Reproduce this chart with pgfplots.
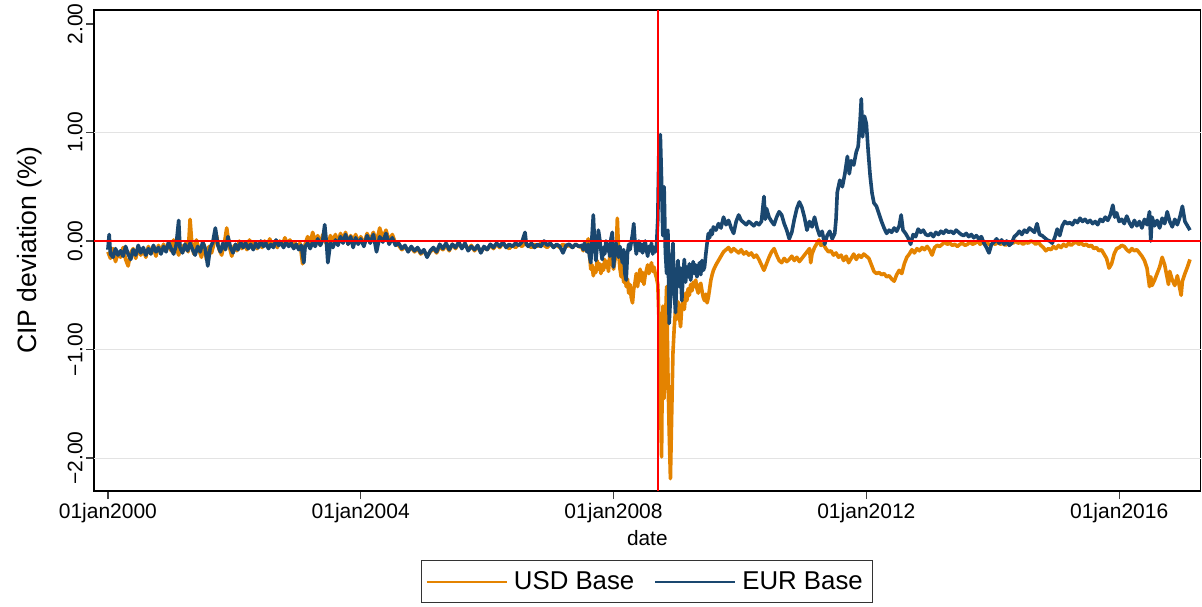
\documentclass[border=0pt]{standalone}
\usepackage{pgfplots}
\pgfplotsset{compat=1.18}
\usepackage{fontspec}
\setmainfont{Liberation Sans}
\definecolor{usdor}{RGB}{228,131,0}
\definecolor{eurnavy}{RGB}{26,71,111}
\begin{document}
\begin{tikzpicture}
\useasboundingbox (0,0) rectangle (601pt,303pt);
\begin{axis}[
  at={(47pt,57.5pt)}, anchor=south west,
  scale only axis, width=553.35pt, height=240.5pt,
  xmin=1999.78, xmax=2017.29, ymin=-2.304, ymax=2.129,
  xtick={2000,2004,2008,2012,2016},
  xticklabels={01jan2000,01jan2004,01jan2008,01jan2012,01jan2016},
  ytick={-2,-1,0,1,2},
  yticklabels={−2.00,−1.00,0.00,1.00,2.00},
  extra y ticks={-2,-1,1}, extra y tick labels={},
  extra y tick style={grid=major, major tick length=0pt},
  major grid style={gray!22, line width=0.5pt},
  /pgf/number format/assume math mode=true,
  xtick pos=lower, ytick pos=left, tick align=outside,
  major tick length=4pt,
  tick style={black!75, line width=0.6pt},
  axis line style={black, line width=0.6pt},
  ticklabel style={font=\fontsize{10.5}{12}\selectfont},
  yticklabel style={rotate=90, anchor=south, inner sep=1.5pt},
  xticklabel style={inner sep=2pt},
  xlabel={date}, ylabel={CIP deviation (\%)},
  xlabel style={font=\fontsize{10.4}{12}\selectfont, at={(axis description cs:0.5,-0.0977)}, anchor=center},
  ylabel style={font=\fontsize{13.3}{15}\selectfont, at={(axis description cs:-0.0585,0.5)}, anchor=center, rotate=0},
  legend columns=2,
  legend style={at={(axis description cs:0.5,-0.1435)}, anchor=north, draw=black!80, line width=0.5pt,
    font=\fontsize{12.9}{14}\selectfont, inner xsep=2pt, inner ysep=2.3pt,
    nodes={inner sep=3pt},
    /tikz/every even column/.append style={column sep=7pt}},
  legend image code/.code={\draw[#1, line width=1pt] (0pt,0pt) -- (40pt,0pt);},
]
\addplot[usdor, line width=1.8pt, line join=round] table {
2000.00 -0.10
2000.04 -0.16
2000.08 -0.07
2000.12 -0.19
2000.16 -0.11
2000.20 -0.15
2000.24 -0.06
2000.28 -0.17
2000.32 -0.23
2000.36 -0.11
2000.40 -0.07
2000.44 -0.16
2000.48 -0.06
2000.52 -0.13
2000.56 -0.08
2000.60 -0.15
2000.64 -0.05
2000.68 -0.11
2000.72 -0.06
2000.76 -0.14
2000.80 -0.04
2000.84 -0.10
2000.88 -0.03
2000.92 -0.09
2000.96 -0.02
2001.00 -0.09
2001.04 0.01
2001.08 -0.06
2001.12 -0.13
2001.16 -0.04
2001.20 -0.09
2001.24 -0.01
2001.27 -0.10
2001.30 0.20
2001.33 -0.04
2001.36 -0.12
2001.40 0.01
2001.44 -0.08
2001.48 -0.15
2001.52 -0.03
2001.56 -0.17
2001.60 -0.05
2001.64 -0.11
2001.68 -0.02
2001.72 0.05
2001.76 -0.08
2001.80 -0.13
2001.84 -0.03
2001.88 0.12
2001.92 -0.05
2001.96 -0.14
2002.00 -0.04
2002.04 -0.09
2002.08 0.00
2002.12 -0.07
2002.16 -0.02
2002.20 -0.08
2002.24 0.01
2002.28 -0.05
2002.32 -0.01
2002.36 -0.07
2002.40 -0.02
2002.44 -0.06
2002.48 0.00
2002.52 -0.05
2002.56 0.02
2002.60 -0.04
2002.64 -0.01
2002.68 -0.06
2002.72 0.00
2002.76 -0.04
2002.80 0.03
2002.84 -0.03
2002.88 0.01
2002.92 -0.05
2002.96 -0.02
2003.00 -0.06
2003.04 -0.02
2003.08 -0.21
2003.12 -0.03
2003.16 0.04
2003.20 -0.02
2003.24 0.08
2003.28 -0.01
2003.32 0.05
2003.36 -0.04
2003.40 0.06
2003.44 0.00
2003.48 -0.06
2003.52 0.05
2003.56 0.00
2003.60 0.06
2003.64 -0.02
2003.68 0.07
2003.72 0.01
2003.76 0.08
2003.80 -0.03
2003.84 0.05
2003.88 0.00
2003.92 0.06
2003.96 -0.02
2004.00 0.04
2004.05 -0.03
2004.10 0.07
2004.15 0.01
2004.20 0.08
2004.25 -0.01
2004.30 0.12
2004.35 0.03
2004.40 0.10
2004.45 0.00
2004.50 0.06
2004.55 -0.02
2004.60 -0.04
2004.65 -0.08
2004.70 -0.05
2004.75 -0.09
2004.80 -0.06
2004.85 -0.10
2004.90 -0.07
2004.95 -0.12
2005.00 -0.09
2005.05 -0.14
2005.10 -0.10
2005.15 -0.07
2005.20 -0.11
2005.25 -0.05
2005.30 -0.08
2005.35 -0.04
2005.40 -0.09
2005.45 -0.03
2005.50 -0.07
2005.55 -0.02
2005.60 -0.06
2005.65 -0.03
2005.70 -0.08
2005.75 -0.04
2005.80 -0.09
2005.85 -0.05
2005.90 -0.10
2005.95 -0.06
2006.00 -0.08
2006.05 -0.04
2006.10 -0.07
2006.15 -0.03
2006.20 -0.06
2006.25 -0.02
2006.30 -0.05
2006.35 -0.07
2006.40 -0.04
2006.45 -0.06
2006.50 -0.03
2006.55 -0.05
2006.60 -0.02
2006.65 -0.04
2006.70 -0.06
2006.75 -0.03
2006.80 -0.05
2006.85 -0.02
2006.90 -0.04
2006.95 -0.06
2007.00 -0.03
2007.05 -0.05
2007.10 -0.04
2007.15 -0.06
2007.20 -0.03
2007.25 -0.05
2007.30 -0.04
2007.35 -0.06
2007.40 -0.03
2007.45 -0.05
2007.50 -0.06
2007.52 -0.09
2007.54 -0.04
2007.56 -0.08
2007.58 -0.02
2007.60 0.02
2007.62 -0.12
2007.64 -0.26
2007.66 -0.22
2007.68 -0.32
2007.70 -0.25
2007.72 -0.29
2007.74 -0.18
2007.76 -0.26
2007.78 -0.21
2007.80 -0.30
2007.82 -0.22
2007.84 -0.27
2007.86 -0.17
2007.88 -0.24
2007.90 -0.19
2007.92 -0.28
2007.94 -0.14
2007.96 -0.09
2007.98 -0.20
2008.00 -0.26
2008.02 -0.18
2008.04 -0.12
2008.06 0.21
2008.08 -0.10
2008.10 -0.25
2008.12 -0.33
2008.14 -0.22
2008.16 -0.38
2008.18 -0.30
2008.20 -0.42
2008.22 -0.35
2008.24 -0.48
2008.26 -0.40
2008.28 -0.52
2008.30 -0.57
2008.32 -0.44
2008.34 -0.38
2008.36 -0.30
2008.38 -0.42
2008.40 -0.33
2008.42 -0.26
2008.44 -0.37
2008.46 -0.29
2008.48 -0.40
2008.50 -0.32
2008.52 -0.27
2008.54 -0.22
2008.56 -0.30
2008.58 -0.25
2008.60 -0.20
2008.62 -0.28
2008.64 -0.24
2008.66 -0.30
2008.68 -0.34
2008.70 -0.40
2008.72 -0.75
2008.74 -1.40
2008.76 -1.99
2008.78 -0.60
2008.80 -1.45
2008.82 -0.75
2008.84 -0.42
2008.86 -1.20
2008.88 -1.75
2008.90 -2.19
2008.92 -1.60
2008.94 -1.03
2008.96 -0.80
2008.98 -0.64
2009.00 -0.72
2009.02 -0.56
2009.04 -0.68
2009.06 -0.79
2009.08 -0.60
2009.10 -0.54
2009.12 -0.63
2009.14 -0.48
2009.16 -0.55
2009.18 -0.44
2009.20 -0.50
2009.22 -0.40
2009.24 -0.46
2009.26 -0.38
2009.28 -0.42
2009.30 -0.36
2009.32 -0.44
2009.34 -0.48
2009.36 -0.41
2009.38 -0.39
2009.40 -0.46
2009.42 -0.52
2009.44 -0.55
2009.46 -0.49
2009.48 -0.57
2009.50 -0.52
2009.52 -0.44
2009.54 -0.36
2009.56 -0.31
2009.58 -0.27
2009.62 -0.22
2009.66 -0.18
2009.70 -0.14
2009.74 -0.10
2009.78 -0.08
2009.82 -0.06
2009.86 -0.10
2009.90 -0.07
2009.94 -0.09
2009.98 -0.11
2010.02 -0.08
2010.06 -0.12
2010.10 -0.10
2010.14 -0.13
2010.18 -0.11
2010.22 -0.15
2010.26 -0.13
2010.30 -0.17
2010.34 -0.22
2010.38 -0.27
2010.42 -0.21
2010.46 -0.15
2010.50 -0.10
2010.54 -0.07
2010.58 -0.13
2010.62 -0.18
2010.66 -0.20
2010.70 -0.16
2010.74 -0.19
2010.78 -0.17
2010.82 -0.14
2010.86 -0.18
2010.90 -0.15
2010.94 -0.19
2010.98 -0.16
2011.02 -0.13
2011.06 -0.10
2011.10 -0.07
2011.12 -0.20
2011.14 -0.12
2011.18 -0.06
2011.22 -0.02
2011.25 0.01
2011.28 -0.04
2011.32 -0.03
2011.36 -0.07
2011.40 -0.10
2011.44 -0.09
2011.48 -0.13
2011.52 -0.11
2011.56 -0.15
2011.60 -0.13
2011.64 -0.18
2011.68 -0.14
2011.72 -0.20
2011.76 -0.16
2011.80 -0.12
2011.84 -0.17
2011.88 -0.13
2011.92 -0.15
2011.96 -0.12
2012.00 -0.14
2012.04 -0.16
2012.08 -0.22
2012.12 -0.28
2012.16 -0.30
2012.20 -0.29
2012.24 -0.31
2012.28 -0.30
2012.32 -0.33
2012.36 -0.32
2012.40 -0.35
2012.44 -0.37
2012.48 -0.31
2012.52 -0.27
2012.56 -0.30
2012.60 -0.21
2012.64 -0.15
2012.68 -0.12
2012.72 -0.08
2012.76 -0.11
2012.80 -0.07
2012.84 -0.09
2012.88 -0.06
2012.92 -0.08
2012.96 -0.05
2013.00 -0.08
2013.04 -0.13
2013.08 -0.06
2013.12 -0.04
2013.16 -0.05
2013.20 -0.03
2013.24 -0.01
2013.28 -0.03
2013.32 -0.02
2013.36 -0.04
2013.40 -0.03
2013.44 -0.05
2013.48 -0.03
2013.52 -0.02
2013.56 -0.04
2013.60 -0.03
2013.64 -0.01
2013.68 -0.03
2013.72 -0.02
2013.76 0.00
2013.80 -0.03
2013.84 -0.01
2013.88 -0.03
2013.92 -0.02
2013.96 -0.04
2014.00 -0.02
2014.04 -0.03
2014.08 -0.01
2014.12 -0.03
2014.16 -0.02
2014.20 -0.04
2014.24 -0.02
2014.28 -0.01
2014.32 -0.02
2014.36 0.00
2014.40 -0.02
2014.44 -0.01
2014.48 -0.03
2014.52 -0.01
2014.56 -0.02
2014.60 0.00
2014.64 -0.01
2014.68 -0.03
2014.72 -0.01
2014.76 -0.04
2014.80 -0.06
2014.84 -0.09
2014.88 -0.07
2014.92 -0.08
2014.96 -0.05
2015.00 -0.07
2015.04 -0.04
2015.08 -0.06
2015.12 -0.03
2015.16 -0.05
2015.20 -0.02
2015.24 -0.04
2015.28 -0.02
2015.32 -0.01
2015.36 -0.03
2015.40 -0.02
2015.44 -0.04
2015.48 -0.03
2015.52 -0.05
2015.56 -0.04
2015.60 -0.07
2015.64 -0.06
2015.68 -0.09
2015.72 -0.08
2015.76 -0.12
2015.80 -0.16
2015.84 -0.25
2015.88 -0.21
2015.92 -0.12
2015.96 -0.07
2016.00 -0.06
2016.04 -0.04
2016.08 -0.05
2016.12 -0.08
2016.16 -0.10
2016.20 -0.07
2016.24 -0.09
2016.28 -0.08
2016.32 -0.11
2016.36 -0.14
2016.40 -0.18
2016.44 -0.25
2016.48 -0.42
2016.50 -0.33
2016.52 -0.41
2016.56 -0.36
2016.60 -0.30
2016.64 -0.24
2016.68 -0.15
2016.72 -0.22
2016.76 -0.34
2016.78 -0.40
2016.80 -0.28
2016.84 -0.36
2016.88 -0.41
2016.92 -0.32
2016.96 -0.44
2016.98 -0.50
2017.00 -0.37
2017.04 -0.30
2017.08 -0.24
2017.12 -0.17
};
\addlegendentry{USD Base}
\addplot[eurnavy, line width=1.8pt, line join=round] table {
2000.00 -0.08
2000.02 0.06
2000.04 -0.12
2000.08 -0.15
2000.12 -0.07
2000.16 -0.13
2000.20 -0.09
2000.24 -0.14
2000.28 -0.05
2000.32 -0.12
2000.36 -0.17
2000.40 -0.08
2000.44 -0.13
2000.48 -0.04
2000.52 -0.11
2000.56 -0.06
2000.60 -0.13
2000.64 -0.07
2000.68 -0.12
2000.72 -0.04
2000.76 -0.10
2000.80 -0.06
2000.84 -0.12
2000.88 -0.05
2000.92 -0.10
2000.96 -0.01
2001.00 -0.07
2001.04 -0.12
2001.08 -0.04
2001.12 0.19
2001.14 -0.06
2001.18 -0.11
2001.22 -0.03
2001.26 -0.09
2001.30 -0.02
2001.34 -0.08
2001.38 -0.13
2001.42 -0.05
2001.46 -0.10
2001.50 -0.01
2001.54 -0.07
2001.58 -0.23
2001.62 -0.06
2001.66 -0.01
2001.70 0.12
2001.74 -0.04
2001.78 -0.10
2001.82 -0.02
2001.86 -0.08
2001.90 0.04
2001.94 -0.06
2001.98 -0.11
2002.02 -0.03
2002.06 -0.08
2002.10 -0.01
2002.14 -0.06
2002.18 -0.02
2002.22 -0.07
2002.26 -0.03
2002.30 -0.08
2002.34 -0.02
2002.38 -0.06
2002.42 0.00
2002.46 -0.05
2002.50 -0.02
2002.54 -0.07
2002.58 -0.03
2002.62 -0.06
2002.66 0.01
2002.70 -0.04
2002.74 -0.02
2002.78 -0.06
2002.82 -0.01
2002.86 -0.05
2002.90 -0.02
2002.94 -0.07
2002.98 -0.03
2003.02 -0.08
2003.06 -0.04
2003.10 -0.20
2003.12 -0.05
2003.16 -0.02
2003.20 -0.07
2003.24 -0.01
2003.28 -0.05
2003.32 0.02
2003.36 -0.04
2003.40 0.01
2003.43 0.15
2003.46 -0.03
2003.48 -0.20
2003.52 -0.02
2003.56 -0.06
2003.60 0.01
2003.64 -0.04
2003.68 0.04
2003.72 -0.02
2003.76 0.06
2003.80 -0.03
2003.84 0.04
2003.88 -0.06
2003.92 0.03
2003.96 -0.03
2004.00 0.02
2004.05 -0.05
2004.10 0.05
2004.15 -0.02
2004.20 0.06
2004.25 -0.10
2004.30 0.04
2004.35 -0.01
2004.40 0.07
2004.45 -0.03
2004.50 0.03
2004.55 -0.04
2004.60 -0.02
2004.65 -0.07
2004.70 -0.04
2004.75 -0.10
2004.80 -0.05
2004.85 -0.09
2004.90 -0.06
2004.95 -0.11
2005.00 -0.08
2005.05 -0.15
2005.10 -0.09
2005.15 -0.06
2005.20 -0.10
2005.25 -0.03
2005.30 -0.07
2005.35 -0.02
2005.40 -0.08
2005.45 -0.03
2005.50 -0.06
2005.55 -0.01
2005.60 -0.07
2005.65 -0.02
2005.70 -0.09
2005.75 -0.05
2005.80 -0.08
2005.85 -0.04
2005.90 -0.11
2005.95 -0.05
2006.00 -0.08
2006.05 -0.03
2006.10 -0.06
2006.15 -0.02
2006.20 -0.05
2006.25 -0.01
2006.30 -0.06
2006.35 -0.03
2006.40 -0.05
2006.45 -0.02
2006.50 -0.04
2006.55 -0.01
2006.60 0.08
2006.62 -0.03
2006.65 -0.05
2006.70 -0.02
2006.75 -0.06
2006.80 -0.03
2006.85 -0.05
2006.90 0.00
2006.95 -0.04
2007.00 -0.02
2007.05 -0.06
2007.10 -0.03
2007.15 -0.05
2007.20 -0.11
2007.25 -0.04
2007.30 -0.03
2007.35 -0.06
2007.40 -0.03
2007.45 -0.05
2007.50 -0.04
2007.52 -0.08
2007.54 -0.02
2007.56 -0.06
2007.58 -0.10
2007.60 -0.03
2007.62 -0.14
2007.64 -0.20
2007.66 0.05
2007.68 0.24
2007.70 -0.02
2007.72 -0.18
2007.74 -0.05
2007.76 0.10
2007.78 0.02
2007.80 -0.08
2007.82 -0.17
2007.84 -0.06
2007.86 -0.12
2007.88 0.00
2007.90 -0.09
2007.92 -0.03
2007.94 -0.14
2007.96 0.02
2007.98 0.08
2008.00 -0.24
2008.02 -0.10
2008.04 -0.02
2008.06 -0.08
2008.08 -0.15
2008.10 -0.05
2008.12 -0.11
2008.14 -0.20
2008.16 -0.08
2008.18 -0.30
2008.20 -0.36
2008.22 -0.12
2008.24 -0.03
2008.26 -0.08
2008.28 -0.01
2008.30 0.06
2008.32 0.16
2008.34 -0.02
2008.36 -0.12
2008.38 -0.05
2008.40 0.00
2008.42 -0.09
2008.44 -0.03
2008.46 -0.11
2008.48 -0.04
2008.50 0.00
2008.52 -0.08
2008.54 -0.14
2008.56 -0.05
2008.58 -0.09
2008.60 -0.02
2008.62 -0.12
2008.64 -0.06
2008.66 -0.10
2008.68 -0.04
2008.70 0.20
2008.72 0.93
2008.74 0.98
2008.76 0.55
2008.78 0.05
2008.80 0.50
2008.82 -0.10
2008.84 -0.30
2008.86 0.10
2008.88 -0.76
2008.90 -0.53
2008.92 -0.20
2008.94 -0.02
2008.96 -0.45
2008.98 -0.66
2009.00 -0.35
2009.02 -0.18
2009.04 -0.42
2009.06 -0.25
2009.08 -0.55
2009.10 -0.31
2009.12 -0.17
2009.14 -0.38
2009.16 -0.24
2009.18 -0.33
2009.20 -0.21
2009.22 -0.36
2009.24 -0.28
2009.26 -0.19
2009.28 -0.30
2009.30 -0.22
2009.32 -0.33
2009.34 -0.26
2009.36 -0.20
2009.38 -0.31
2009.40 -0.18
2009.42 -0.27
2009.44 -0.24
2009.46 -0.12
2009.48 -0.02
2009.50 0.07
2009.52 0.03
2009.54 0.10
2009.56 0.06
2009.58 0.13
2009.62 0.10
2009.66 0.16
2009.70 0.12
2009.74 0.22
2009.78 0.15
2009.82 0.19
2009.86 0.12
2009.90 0.07
2009.94 0.18
2009.98 0.24
2010.02 0.19
2010.06 0.17
2010.10 0.15
2010.14 0.18
2010.18 0.16
2010.22 0.14
2010.26 0.17
2010.30 0.15
2010.34 0.18
2010.38 0.41
2010.40 0.20
2010.42 0.30
2010.46 0.22
2010.50 0.18
2010.54 0.15
2010.58 0.22
2010.62 0.27
2010.66 0.24
2010.70 0.16
2010.74 0.10
2010.78 0.02
2010.82 0.08
2010.86 0.20
2010.90 0.30
2010.94 0.36
2010.98 0.31
2011.02 0.22
2011.06 0.10
2011.10 0.18
2011.14 0.13
2011.18 0.22
2011.22 0.12
2011.26 0.05
2011.30 0.09
2011.34 -0.03
2011.38 0.05
2011.42 0.09
2011.46 0.02
2011.50 0.07
2011.52 0.20
2011.54 0.45
2011.58 0.56
2011.62 0.50
2011.66 0.62
2011.70 0.78
2011.73 0.62
2011.76 0.74
2011.80 0.70
2011.84 0.82
2011.87 0.87
2011.90 1.10
2011.92 1.31
2011.94 0.96
2011.97 1.15
2012.00 1.08
2012.03 0.82
2012.06 0.60
2012.09 0.44
2012.12 0.35
2012.16 0.32
2012.20 0.25
2012.24 0.18
2012.28 0.12
2012.32 0.07
2012.36 0.10
2012.40 0.08
2012.44 0.12
2012.48 0.09
2012.52 0.14
2012.55 0.24
2012.58 0.10
2012.62 0.07
2012.66 0.03
2012.70 -0.03
2012.74 0.06
2012.78 0.04
2012.82 0.11
2012.86 0.08
2012.90 0.10
2012.94 0.06
2012.98 0.05
2013.02 0.07
2013.06 0.04
2013.10 0.08
2013.14 0.06
2013.18 0.09
2013.22 0.07
2013.26 0.10
2013.30 0.08
2013.34 0.09
2013.38 0.07
2013.42 0.10
2013.46 0.08
2013.50 0.06
2013.54 0.05
2013.58 0.07
2013.62 0.04
2013.66 0.06
2013.70 0.03
2013.74 0.05
2013.78 0.02
2013.82 0.04
2013.86 -0.02
2013.90 -0.06
2013.94 -0.11
2013.98 -0.03
2014.02 -0.01
2014.06 0.02
2014.10 -0.02
2014.14 0.01
2014.18 -0.03
2014.22 0.00
2014.26 -0.04
2014.30 -0.02
2014.34 0.04
2014.38 0.06
2014.42 0.09
2014.46 0.06
2014.50 0.10
2014.54 0.08
2014.58 0.12
2014.62 0.10
2014.66 0.08
2014.70 0.16
2014.74 0.06
2014.78 0.05
2014.82 0.03
2014.86 0.01
2014.90 0.00
2014.94 -0.02
2014.98 0.03
2015.02 0.11
2015.06 0.05
2015.10 0.14
2015.14 0.18
2015.18 0.16
2015.22 0.17
2015.26 0.15
2015.30 0.19
2015.34 0.17
2015.38 0.21
2015.42 0.18
2015.46 0.20
2015.50 0.17
2015.54 0.19
2015.58 0.16
2015.62 0.18
2015.66 0.15
2015.70 0.20
2015.74 0.18
2015.78 0.22
2015.82 0.19
2015.86 0.24
2015.90 0.33
2015.93 0.22
2015.96 0.26
2016.00 0.18
2016.04 0.20
2016.08 0.16
2016.12 0.23
2016.16 0.17
2016.20 0.13
2016.24 0.19
2016.28 0.14
2016.32 0.18
2016.36 0.12
2016.40 0.20
2016.44 0.15
2016.48 0.27
2016.50 0.00
2016.52 0.22
2016.56 0.14
2016.60 0.19
2016.64 0.12
2016.68 0.21
2016.72 0.16
2016.76 0.27
2016.80 0.18
2016.84 0.13
2016.88 0.20
2016.92 0.15
2016.96 0.22
2017.00 0.32
2017.04 0.18
2017.08 0.14
2017.12 0.10
};
\addlegendentry{EUR Base}
\addplot[red, line width=1pt, forget plot] coordinates {(2008.70,-2.304) (2008.70,2.129)};
\addplot[red, line width=1pt, forget plot] coordinates {(1999.78,0) (2017.29,0)};
\end{axis}
\end{tikzpicture}
\end{document}
